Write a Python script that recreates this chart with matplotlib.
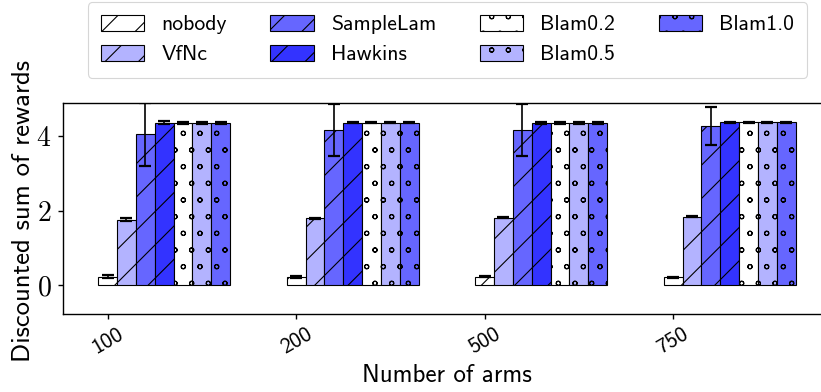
import matplotlib
matplotlib.use('Agg')
import matplotlib.pyplot as plt
import matplotlib.hatch as mhatch
import numpy as np

plt.rcParams['mathtext.fontset'] = 'cm'
plt.rcParams['font.family'] = ['cmss10', 'DejaVu Sans']
plt.rcParams['axes.formatter.use_mathtext'] = True
plt.rcParams['hatch.linewidth'] = 0.4
# smaller hollow circles for the 'o' hatch, as in the reference
mhatch.SmallCircles.size = 0.13

arms = ['100', '200', '500', '750']
methods = ['nobody', 'VfNc', 'SampleLam', 'Hawkins', 'Blam0.2', 'Blam0.5', 'Blam1.0']

nobody_mean = [0.23, 0.22, 0.23, 0.21]
nobody_err = [0.04, 0.02, 0.02, 0.02]
vfnc_mean = [1.75, 1.79, 1.81, 1.84]
vfnc_err = [0.04, 0.02, 0.02, 0.02]
samplelam_mean = [4.05, 4.16, 4.16, 4.27]
samplelam_err = [0.85, 0.69, 0.69, 0.50]
hawkins_mean = [4.36, 4.36, 4.35, 4.37]
hawkins_err = [0.04, 0.02, 0.02, 0.02]
blam02_mean = [4.36, 4.36, 4.35, 4.37]
blam02_err = [0.03, 0.02, 0.02, 0.02]
blam05_mean = [4.36, 4.36, 4.35, 4.37]
blam05_err = [0.03, 0.02, 0.02, 0.02]
blam10_mean = [4.36, 4.36, 4.35, 4.37]
blam10_err = [0.03, 0.02, 0.02, 0.02]

means = [nobody_mean, vfnc_mean, samplelam_mean, hawkins_mean,
         blam02_mean, blam05_mean, blam10_mean]
errs = [nobody_err, vfnc_err, samplelam_err, hawkins_err,
        blam02_err, blam05_err, blam10_err]
colors = ['#ffffff', '#b3b3ff', '#6666ff', '#3333ff', '#ffffff', '#b3b3ff', '#6666ff']
hatches = ['//', '//', '//', '//', 'oo', 'oo', 'oo']

W, H, DPI = 821, 392, 200
fig = plt.figure(figsize=(W / DPI, H / DPI), dpi=DPI)
x0, x1 = 63.3, 830.5
y0, y1 = 103.3, 314.3
ax = fig.add_axes([x0 / W, 1 - y1 / H, (x1 - x0) / W, (y1 - y0) / H])

x = np.arange(len(arms))
width = 0.1
for k, m in enumerate(methods):
    ax.bar(x + k * width, means[k], width, yerr=errs[k], color=colors[k],
           edgecolor='black', linewidth=0.4, hatch=hatches[k], label=m,
           error_kw=dict(ecolor='black', elinewidth=0.6, capsize=2.0, capthick=0.8))

ax.set_xlim(-0.235, 3.835)
ax.set_ylim(-0.78, 4.88)
ax.set_xticks(x)
ax.set_xticklabels(arms, rotation=30, fontsize=7.9)
ax.set_yticks([0, 2, 4])
ax.set_yticklabels(['$0$', '$2$', '$4$'], fontsize=10)
ax.tick_params(axis='both', length=1.8, width=0.5, pad=2.5)
ax.tick_params(axis='x', pad=2.0)
for s in ax.spines.values():
    s.set_linewidth(0.5)

ax.set_xlabel('Number of arms', fontsize=9.0)
ax.set_ylabel('Discounted sum of rewards', fontsize=9.6)
ax.xaxis.set_label_coords(0.5, -0.235)
ax.yaxis.set_label_coords(-0.037, 0.49)

leg = fig.legend(loc='upper center', bbox_to_anchor=(447.5 / W, 1 + 8.5 / H),
                 ncol=4, fontsize=7.8, frameon=True, fancybox=True,
                 borderpad=0.6)
leg.get_frame().set_linewidth(0.4)

fig.savefig('out.png', dpi=DPI)
